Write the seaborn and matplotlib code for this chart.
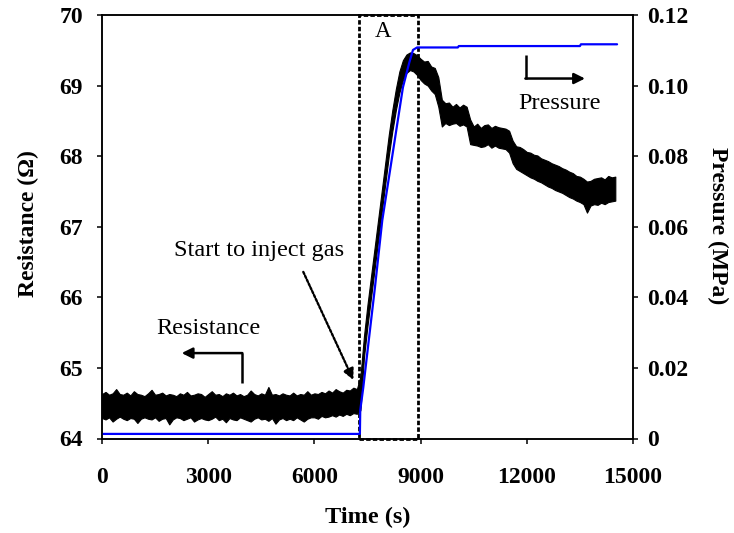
import matplotlib
matplotlib.use("Agg")
import matplotlib.pyplot as plt
import seaborn as sns
import pandas as pd
from matplotlib.patches import Rectangle

# ---------------- data ----------------
res_time = list(range(0, 14600, 100))

res_high = [
    # baseline 0 - 7200
    64.63, 64.66, 64.62, 64.64, 64.70, 64.63, 64.62, 64.65, 64.61, 64.67,
    64.63, 64.62, 64.60, 64.64, 64.69, 64.62, 64.63, 64.65, 64.61, 64.63,
    64.62, 64.60, 64.64, 64.62, 64.66, 64.61, 64.62, 64.64, 64.63, 64.59,
    64.63, 64.67, 64.62, 64.63, 64.60, 64.64, 64.62, 64.65, 64.61, 64.63,
    64.60, 64.62, 64.68, 64.63, 64.61, 64.64, 64.62, 64.73, 64.62, 64.63,
    64.61, 64.64, 64.62, 64.61, 64.65, 64.61, 64.63, 64.62, 64.67, 64.62,
    64.64, 64.63, 64.66, 64.64, 64.68, 64.65, 64.70, 64.67, 64.65, 64.69,
    64.68, 64.72, 64.70,
    # rise 7300 - 8700
    64.88, 65.45, 65.90, 66.30, 66.70, 67.10, 67.50, 67.90, 68.30, 68.65,
    68.95, 69.20, 69.36, 69.44, 69.47,
    # decay 8800 - 14500
    69.46, 69.43, 69.38, 69.34, 69.35, 69.27, 69.25, 69.12, 68.80, 68.75,
    68.76, 68.70, 68.74, 68.69, 68.73, 68.70, 68.52, 68.42, 68.46, 68.40,
    68.44, 68.45, 68.40, 68.43, 68.41, 68.40, 68.39, 68.36, 68.22, 68.14,
    68.13, 68.10, 68.06, 68.05, 68.02, 68.01, 67.97, 67.95, 67.93, 67.90,
    67.88, 67.86, 67.83, 67.81, 67.78, 67.76, 67.72, 67.71, 67.68, 67.64,
    67.65, 67.68, 67.69, 67.70, 67.67, 67.72, 67.70, 67.71,
]

res_low = [
    # baseline 0 - 7200
    64.29, 64.27, 64.30, 64.24, 64.28, 64.31, 64.28, 64.26, 64.29, 64.28,
    64.22, 64.28, 64.30, 64.28, 64.27, 64.30, 64.25, 64.28, 64.29, 64.20,
    64.27, 64.30, 64.29, 64.26, 64.28, 64.30, 64.24, 64.27, 64.29, 64.27,
    64.26, 64.28, 64.31, 64.26, 64.28, 64.23, 64.29, 64.27, 64.26, 64.30,
    64.28, 64.26, 64.24, 64.28, 64.30, 64.27, 64.28, 64.25, 64.29, 64.21,
    64.27, 64.29, 64.26, 64.28, 64.26, 64.30, 64.27, 64.24, 64.28, 64.30,
    64.30, 64.28, 64.32, 64.30, 64.31, 64.33, 64.31, 64.34, 64.32, 64.35,
    64.33, 64.36, 64.35,
    # rise 7300 - 8700
    64.40, 65.15, 65.60, 66.00, 66.40, 66.80, 67.20, 67.60, 68.00, 68.35,
    68.65, 68.90, 69.08, 69.18, 69.22,
    # decay 8800 - 14500
    69.20, 69.15, 69.08, 69.03, 69.00, 68.93, 68.88, 68.70, 68.42, 68.47,
    68.44, 68.46, 68.47, 68.43, 68.45, 68.42, 68.17, 68.16, 68.15, 68.13,
    68.14, 68.17, 68.12, 68.15, 68.12, 68.11, 68.10, 68.05, 67.90, 67.82,
    67.79, 67.76, 67.73, 67.70, 67.68, 67.65, 67.63, 67.60, 67.57, 67.55,
    67.52, 67.50, 67.48, 67.45, 67.42, 67.40, 67.37, 67.35, 67.32, 67.20,
    67.30, 67.32, 67.31, 67.34, 67.32, 67.35, 67.36, 67.37,
]

p_time = [0, 7285, 7295, 7380, 7710, 7917, 8323, 8501, 8680, 8785, 8900,
          10050, 10080, 13500, 13530, 14550]
p_val = [0.0013, 0.0013, 0.008, 0.0144, 0.0428, 0.0618, 0.088, 0.0995,
         0.1065, 0.1101, 0.1108, 0.1108, 0.1112, 0.1112, 0.1117, 0.1117]

x_ticks = [0, 3000, 6000, 9000, 12000, 15000]
r_ticks = [64, 65, 66, 67, 68, 69, 70]
p_ticks = [0, 0.02, 0.04, 0.06, 0.08, 0.10, 0.12]
p_labels = ["0", "0.02", "0.04", "0.06", "0.08", "0.10", "0.12"]

# ---------------- style ----------------
sns.set_theme(style="ticks")
plt.rcParams["font.family"] = ["Liberation Serif", "DejaVu Serif"]
plt.rcParams["axes.linewidth"] = 1.1
plt.rcParams["xtick.major.width"] = 1.1
plt.rcParams["ytick.major.width"] = 1.1
plt.rcParams["xtick.major.size"] = 3.6
plt.rcParams["ytick.major.size"] = 3.6
plt.rcParams["xtick.direction"] = "out"
plt.rcParams["ytick.direction"] = "out"

W, H = 734, 533
L, R, T, B = 102, 633, 15, 438.5
fig = plt.figure(figsize=(7.34, 5.33), dpi=100)
ax = fig.add_axes([L / W, (H - B) / H, (R - L) / W, (B - T) / H])
ax.set_facecolor("white")
for s in ax.spines.values():
    s.set_color("black")

df_res = pd.DataFrame({"time": res_time, "high": res_high, "low": res_low})
ax.fill_between(df_res["time"], df_res["low"], df_res["high"],
                facecolor="black", edgecolor="black", lw=0.8, zorder=2)

ax.set_xlim(0, 15000)
ax.set_ylim(64, 70)
ax.set_xticks(x_ticks)
ax.set_yticks(r_ticks)
ax.tick_params(axis="both", colors="black", labelsize=17)
ax.tick_params(axis="x", pad=17)
ax.tick_params(axis="y", pad=10)
for lab in ax.get_xticklabels() + ax.get_yticklabels():
    lab.set_fontweight("bold")
ax.set_xlabel("Time (s)", fontsize=17.5, fontweight="bold", color="black")
ax.xaxis.set_label_coords(0.5, (B - 517) / (B - T))
ax.xaxis.label.set_va("center")
ax.set_ylabel("Resistance (\u03a9)", fontsize=17, fontweight="bold", color="black")
ax.yaxis.set_label_coords((28 - L) / (R - L), (B - 224) / (B - T))
ax.yaxis.label.set_va("center")

# dashed box "A"
ax.add_patch(Rectangle((7270, 64.0), 8935 - 7270, 6.0, fill=False,
                       edgecolor="black", lw=2.0, linestyle=(0, (1.6, 0.8)),
                       zorder=3, clip_on=False))
ax.text(7946, 69.76, "A", fontsize=16.5, ha="center", va="center", color="black")

# annotations
ax.text(4435, 66.66, "Start to inject gas", fontsize=17.5, ha="center", va="center", color="black")
ax.annotate("", xy=(7099, 64.83), xytext=(5686, 66.36),
            arrowprops=dict(arrowstyle="-|>", linestyle=(0, (1, 0.8)), lw=1.7,
                            color="black", mutation_scale=16, shrinkA=0, shrinkB=0))

ax.text(2994, 65.56, "Resistance", fontsize=17.5, ha="center", va="center", color="black")
ax.plot([3946, 3946], [64.79, 65.21], color="black", lw=1.8, solid_capstyle="butt")
ax.annotate("", xy=(2251, 65.21), xytext=(3964, 65.21),
            arrowprops=dict(arrowstyle="-|>", lw=1.8, color="black",
                            mutation_scale=16, shrinkA=0, shrinkB=0))

ax.text(12938, 68.75, "Pressure", fontsize=17.5, ha="center", va="center", color="black")
ax.plot([11977, 11977], [69.43, 69.10], color="black", lw=1.8, solid_capstyle="butt")
ax.annotate("", xy=(13644, 69.10), xytext=(11960, 69.10),
            arrowprops=dict(arrowstyle="-|>", lw=1.8, color="black",
                            mutation_scale=16, shrinkA=0, shrinkB=0))

# pressure on twin axis
ax2 = ax.twinx()
df_p = pd.DataFrame({"time": p_time, "pressure": p_val})
sns.lineplot(data=df_p, x="time", y="pressure", ax=ax2, color="#0000ff",
             lw=1.6, sort=False, estimator=None)
ax2.set_ylim(0, 0.12)
ax2.set_xlim(0, 15000)
ax2.set_yticks(p_ticks)
ax2.set_yticklabels(p_labels)
ax2.tick_params(axis="y", colors="black", labelsize=17, pad=6.3)
for lab in ax2.get_yticklabels():
    lab.set_fontweight("bold")
ax2.set_ylabel("Pressure (MPa)", fontsize=17, fontweight="bold", color="black",
               rotation=270)
ax2.yaxis.set_label_coords((718 - L) / (R - L), (B - 226) / (B - T))
ax2.yaxis.label.set_va("center")
ax2.set_xlabel("")
for s in ax2.spines.values():
    s.set_color("black")

fig.savefig("out.png", dpi=100, facecolor="white")
